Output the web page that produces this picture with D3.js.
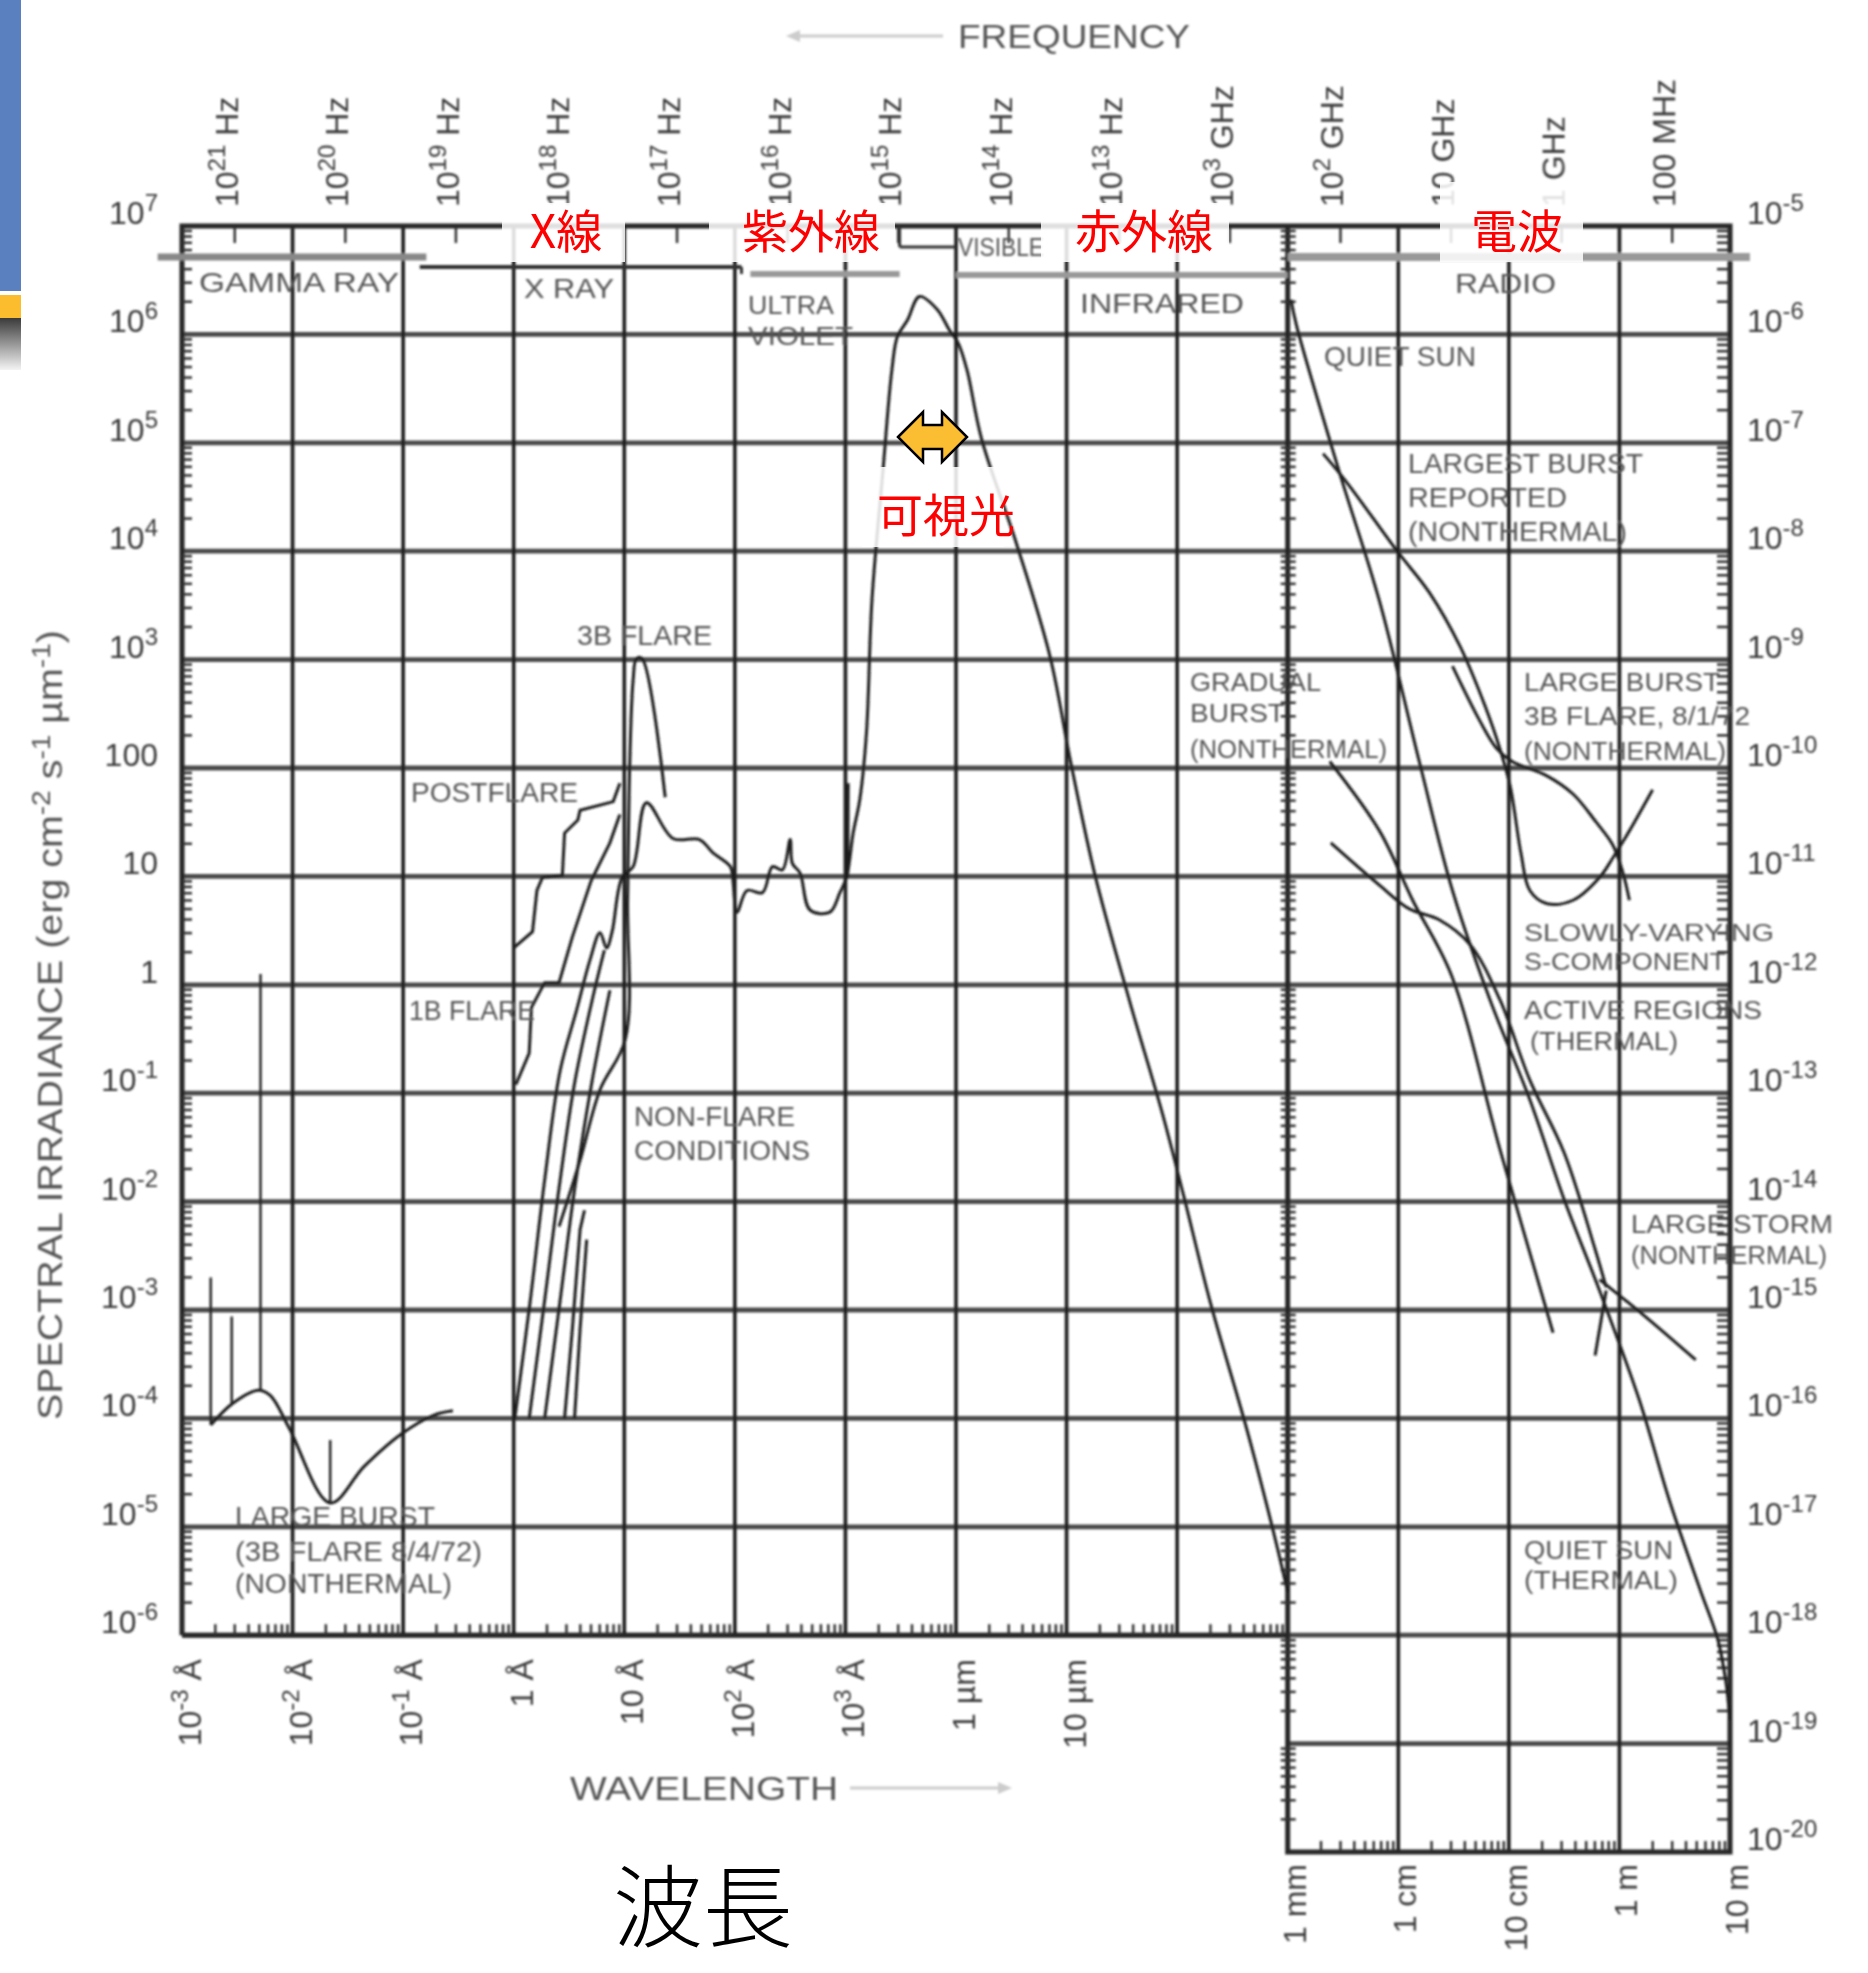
<!DOCTYPE html>
<html>
<head>
<meta charset="utf-8">
<title>太陽スペクトル放射照度</title>
<script src="https://d3js.org/d3.v7.min.js"></script>
<style>
  body { margin: 0; background: #fff; }
  svg text { font-family: "Liberation Sans", Arial, sans-serif; }
  .jp { font-family: "Noto Sans CJK JP", sans-serif; }
</style>
</head>
<body>
<div id="chart"></div>
<script>
const width = 1868, height = 1973;

// curves: [log10 wavelength in Å, log10 irradiance]
// left panel in erg cm-2 s-1 µm-1, radio panel in right-axis units
const quietSpectrum = [[0.01,-4.0],[0.15,-2.91],[0.28,-1.80],[0.42,-0.79],[0.57,-0.23],[0.69,0.23],[0.78,0.48],[0.84,0.34],[0.89,0.49],[0.98,0.99],[1.08,1.09],[1.20,1.68],[1.44,1.35],[1.68,1.34],[1.80,1.22],[1.96,1.09],[1.98,0.99],[2.02,0.67],[2.11,0.87],[2.25,0.85],[2.34,1.09],[2.43,1.06],[2.50,1.34],[2.52,1.12],[2.59,1.03],[2.68,0.69],[2.86,0.67],[2.95,0.85],[3.01,0.99],[3.07,1.40],[3.13,1.71],[3.19,2.32],[3.24,3.55],[3.34,4.75],[3.42,5.67],[3.47,5.98],[3.56,6.13],[3.67,6.35],[3.83,6.23],[3.94,6.04],[4.02,5.92],[4.10,5.67],[4.23,5.04],[4.55,4.06],[4.85,3.03],[5.04,2.04],[5.26,1.00],[5.57,-0.15],[5.87,-1.2],[6.06,-1.95],[6.30,-2.93],[6.63,-4.1],[6.86,-5.0],[7.0,-5.6]];
const lymanAlpha = [[3.02,0.99],[3.025,1.86]];
const postflare = [[0.00,0.34],[0.17,0.49],[0.21,0.87],[0.26,0.99],[0.44,1.01],[0.46,1.40],[0.58,1.52],[0.60,1.61],[0.90,1.69],[0.96,1.86]];
const flare1B = [[0.02,-0.92],[0.14,-0.63],[0.16,-0.21],[0.28,0.02],[0.41,0.02],[0.53,0.44],[0.70,0.96],[0.87,1.31],[0.96,1.57]];
const flare3B = [[0.41,-2.23],[0.60,-1.62],[0.78,-0.97],[1.01,-0.50],[1.03,0.78],[1.05,2.07],[1.08,2.81],[1.11,3.01],[1.16,3.01],[1.37,1.73]];
const nonflareB = [[0.14,-4.0],[0.28,-2.91],[0.42,-1.80],[0.55,-0.91],[0.71,-0.14],[0.82,0.32]];
const nonflareC = [[0.28,-4.0],[0.42,-2.91],[0.55,-1.89],[0.71,-0.88],[0.87,-0.05]];
const nonflareD = [[0.46,-4.0],[0.53,-3.18],[0.60,-2.26],[0.64,-2.08]];
const nonflareE = [[0.55,-4.0],[0.60,-3.18],[0.66,-2.35]];
const gammaBurst = [[-2.74,-4.06],[-2.54,-3.86],[-2.31,-3.74],[-2.20,-3.79],[-2.03,-4.09],[-1.66,-4.78],[-1.35,-4.44],[-1.01,-4.14],[-0.72,-3.97],[-0.55,-3.93]];
// gamma lines: [log10 wavelength, log10 top, log10 bottom]
const gammaLines = [[-2.74,-2.70,-4.06],[-2.55,-3.06,-3.86],[-2.29,0.10,-3.74],[-1.66,-4.20,-4.78]];

const radioQuiet = [[7.03,-5.68],[7.08,-5.92],[7.47,-7.28],[7.83,-8.46],[8.19,-9.94],[8.49,-11.13],[8.83,-12.14],[9.19,-13.06],[9.50,-13.98],[9.82,-14.82],[10.18,-15.83],[10.45,-16.75],[10.73,-17.58],[10.89,-18.04],[10.96,-18.41],[11.0,-18.78]];
const radioLargest = [[7.32,-7.10],[7.53,-7.36],[7.99,-8.00],[8.28,-8.38],[8.56,-8.88],[8.74,-9.31],[8.89,-9.73],[9.01,-10.16],[9.11,-10.79],[9.19,-11.13],[9.34,-11.25],[9.58,-11.22],[9.82,-11.01],[9.94,-10.83],[10.09,-10.58],[10.30,-10.20]];
const radioBurst3B = [[8.49,-9.06],[8.74,-9.57],[8.89,-9.82],[9.03,-9.94],[9.34,-10.07],[9.58,-10.24],[9.79,-10.50],[9.94,-10.71],[10.03,-10.96],[10.09,-11.22]];
const radioGradual = [[7.38,-9.94],[7.83,-10.58],[8.13,-11.22],[8.48,-11.91],[8.92,-13.52],[9.40,-15.21]];
const radioSComponent = [[7.39,-10.69],[7.84,-11.09],[8.10,-11.30],[8.37,-11.40],[8.65,-11.63],[8.92,-12.14],[9.19,-12.88],[9.50,-13.55],[9.78,-14.44],[9.88,-14.79]];
const radioStorm = [[9.82,-14.72],[10.21,-15.04],[10.69,-15.46]];
const radioStormTick = [[9.78,-15.42],[9.88,-14.82]];

// bands (log10 wavelength in Å)
const bandNames = ["GAMMA RAY", "X RAY", "ULTRA VIOLET", "VISIBLE", "INFRARED", "RADIO"];
const bandFrom = [-3.22, -0.85, 2.14, 3.49, 4.0, 7.0];
const bandTo = [-0.79, 2.06, 3.49, 4.0, 7.0, 11.18];

// axes
const leftExps = d3.range(7, -7, -1);
const rightExps = d3.range(-5, -21, -1);
const wavelengthTicks = [1e-3, 1e-2, 1e-1, 1, 10, 1e2, 1e3, 1e4, 1e5];
const wavelengthLabels = [["10","-3"," Å"],["10","-2"," Å"],["10","-1"," Å"],["1",""," Å"],["10",""," Å"],["10","2"," Å"],["10","3"," Å"],["1",""," µm"],["10",""," µm"],["10","2"," µm"]];
const radioTicks = [1e7, 1e8, 1e9, 1e10, 1e11];
const radioLabels = ["1 mm", "1 cm", "10 cm", "1 m", "10 m"];
const freqTicks = [1e21, 1e20, 1e19, 1e18, 1e17, 1e16, 1e15, 1e14, 1e13, 1e12, 1e11, 1e10, 1e9, 1e8];
const freqLabels = [["10","21"," Hz"],["10","20"," Hz"],["10","19"," Hz"],["10","18"," Hz"],["10","17"," Hz"],["10","16"," Hz"],["10","15"," Hz"],["10","14"," Hz"],["10","13"," Hz"],["10","3"," GHz"],["10","2"," GHz"],["10",""," GHz"],["1",""," GHz"],["100",""," MHz"]];

const svg = d3.select("#chart").append("svg")
  .attr("width", width).attr("height", height);

const defs = svg.append("defs");
defs.append("filter").attr("id", "soft")
  .append("feGaussianBlur").attr("stdDeviation", 0.9);
const grad = defs.append("linearGradient").attr("id", "grayfade")
  .attr("x1", 0).attr("y1", 0).attr("x2", 0).attr("y2", 1);
grad.append("stop").attr("offset", "0%").attr("stop-color", "#3a3a3a");
grad.append("stop").attr("offset", "100%").attr("stop-color", "#f4f4f4");

// slide decoration on the left edge
svg.append("rect").attr("x", 0).attr("y", 0).attr("width", 21).attr("height", 291).attr("fill", "#5a80bf");
svg.append("rect").attr("x", 0).attr("y", 295).attr("width", 21).attr("height", 23).attr("fill", "#fbbd2e");
svg.append("rect").attr("x", 0).attr("y", 318).attr("width", 21).attr("height", 52).attr("fill", "url(#grayfade)");

const x = d3.scaleLog().domain([1e-3, 1e11]).range([182, 1730]);
const yL = d3.scaleLog().domain([1e7, 1e-8]).range([226, 1852]);
const yR = d3.scaleLog().domain([1e-5, 1e-20]).range([226, 1852]);
const xLeft = x(1e-3), xDiv = x(1e7), xRight = x(1e11);
const yTop = yL(1e7), yBotL = yL(1e-6), yBotR = yL(1e-8);

const chart = svg.append("g").attr("filter", "url(#soft)");

// horizontal grid
const hLines = [];
d3.range(6, -7, -1).forEach(e => hLines.push([xLeft, xRight, yL(10 ** e)]));
hLines.push([xDiv, xRight, yL(1e-7)]);
chart.append("g").selectAll("line").data(hLines).join("line")
  .attr("x1", d => d[0]).attr("x2", d => d[1]).attr("y1", d => d[2]).attr("y2", d => d[2])
  .attr("stroke", "#4a4a4a").attr("stroke-width", 4.8);

// vertical grid
const vLines = [];
d3.range(-2, 7).forEach(e => vLines.push([x(10 ** e), yBotL]));
d3.range(8, 11).forEach(e => vLines.push([x(10 ** e), yBotR]));
chart.append("g").selectAll("line").data(vLines).join("line")
  .attr("x1", d => d[0]).attr("x2", d => d[0]).attr("y1", yTop).attr("y2", d => d[1])
  .attr("stroke", "#1e1e1e").attr("stroke-width", 3.6);

// frame
const frame = chart.append("g").attr("stroke", "#262626").attr("stroke-width", 5).attr("fill", "none");
frame.append("path").attr("d", `M${xLeft},${yBotL}V${yTop}H${xRight}V${yBotR}H${xDiv}V${yTop}`);
frame.append("line").attr("x1", xLeft).attr("x2", xDiv).attr("y1", yBotL).attr("y2", yBotL);

// minor ticks
function minorVals(lo, hi) {
  const out = [];
  for (let e = lo; e < hi; e++) for (let k = 2; k <= 9; k++) out.push(k * 10 ** e);
  return out;
}
const tk = chart.append("g").attr("stroke", "#333").attr("stroke-width", 2.5);
minorVals(-6, 7).forEach(v => tk.append("line").attr("x1", xLeft).attr("x2", xLeft + 10).attr("y1", yL(v)).attr("y2", yL(v)));
minorVals(-8, 7).forEach(v => {
  tk.append("line").attr("x1", xDiv - 7).attr("x2", xDiv + 8).attr("y1", yL(v)).attr("y2", yL(v));
  tk.append("line").attr("x1", xRight - 13).attr("x2", xRight).attr("y1", yL(v)).attr("y2", yL(v));
});
minorVals(-3, 7).forEach(v => tk.append("line").attr("x1", x(v)).attr("x2", x(v)).attr("y1", yBotL).attr("y2", yBotL - 11));
minorVals(7, 11).forEach(v => tk.append("line").attr("x1", x(v)).attr("x2", x(v)).attr("y1", yBotR).attr("y2", yBotR - 11));
freqTicks.forEach(f => tk.append("line").attr("x1", x(3e18 / f)).attr("x2", x(3e18 / f)).attr("y1", yTop).attr("y2", yTop + 17));

// band bars
const bandY = [257, 267, 274, 247, 275, 257];
const bandW = [7, 4, 6, 3, 6, 8];
const bandC = ["#888", "#333", "#999", "#333", "#999", "#999"];
bandNames.forEach((n, i) => {
  chart.append("line").attr("x1", x(10 ** bandFrom[i])).attr("x2", x(10 ** bandTo[i]))
    .attr("y1", bandY[i]).attr("y2", bandY[i]).attr("stroke", bandC[i]).attr("stroke-width", bandW[i]);
});
chart.append("line").attr("x1", x(10 ** bandFrom[3])).attr("x2", x(10 ** bandFrom[3]))
  .attr("y1", yTop).attr("y2", bandY[3]).attr("stroke", "#333").attr("stroke-width", 3);
chart.append("line").attr("x1", x(10 ** bandTo[1])).attr("x2", x(10 ** bandTo[1]))
  .attr("y1", bandY[1]).attr("y2", bandY[2]).attr("stroke", "#333").attr("stroke-width", 3);

// curves
const smooth = d3.curveCatmullRom.alpha(0.5);
const lineL = d3.line().x(d => x(10 ** d[0])).y(d => yL(10 ** d[1]));
const lineR = d3.line().x(d => x(10 ** d[0])).y(d => yR(10 ** d[1]));
const curves = chart.append("g").attr("fill", "none").attr("stroke", "#1c1c1c").attr("stroke-width", 3);
[quietSpectrum, flare3B, nonflareB, nonflareC, gammaBurst].forEach(s =>
  curves.append("path").attr("d", lineL.curve(smooth)(s)));
[postflare, flare1B, nonflareD, nonflareE, lymanAlpha].forEach(s =>
  curves.append("path").attr("d", lineL.curve(d3.curveLinear)(s)));
[radioQuiet, radioLargest, radioBurst3B, radioGradual, radioSComponent, radioStorm].forEach(s =>
  curves.append("path").attr("d", lineR.curve(smooth)(s)));
curves.append("path").attr("d", lineR.curve(d3.curveLinear)(radioStormTick));
curves.selectAll(null).data(gammaLines).join("line")
  .attr("x1", d => x(10 ** d[0])).attr("x2", d => x(10 ** d[0]))
  .attr("y1", d => yL(10 ** d[1])).attr("y2", d => yL(10 ** d[2]))
  .attr("stroke-width", 2.4);

// annotation text of the figure: [text, x, baseline, width, size]
const notes = [
  ["GAMMA RAY", 199, 292, 200, 28], ["X RAY", 524, 298, 90, 28], ["ULTRA", 748, 314, 86, 25], ["VIOLET", 748, 345, 105, 25],
  ["VISIBLE", 958, 256, 86, 26], ["INFRARED", 1080, 313, 164, 28], ["RADIO", 1455, 293, 101, 28],
  ["QUIET SUN", 1324, 366, 152, 28], ["LARGEST BURST", 1408, 473, 235, 27], ["REPORTED", 1408, 507, 159, 27], ["(NONTHERMAL)", 1408, 541, 219, 27],
  ["3B FLARE", 577, 645, 135, 27], ["POSTFLARE", 411, 802, 167, 27], ["1B FLARE", 409, 1020, 126, 27],
  ["NON-FLARE", 634, 1126, 161, 27], ["CONDITIONS", 634, 1160, 176, 27],
  ["LARGE BURST", 235, 1526, 200, 27], ["(3B FLARE 8/4/72)", 235, 1561, 247, 27], ["(NONTHERMAL)", 235, 1593, 217, 27],
  ["GRADUAL", 1190, 691, 131, 26], ["BURST", 1190, 722, 95, 26], ["(NONTHERMAL)", 1190, 758, 197, 26],
  ["LARGE BURST", 1524, 691, 196, 26], ["3B FLARE, 8/1/72", 1524, 725, 226, 26], ["(NONTHERMAL)", 1524, 760, 202, 26],
  ["SLOWLY-VARYING", 1524, 941, 250, 24], ["S-COMPONENT", 1524, 970, 202, 24],
  ["ACTIVE REGIONS", 1524, 1019, 238, 25], ["(THERMAL)", 1530, 1050, 148, 25],
  ["LARGE STORM", 1631, 1233, 202, 25], ["(NONTHERMAL)", 1631, 1264, 196, 25],
  ["QUIET SUN", 1524, 1559, 149, 26], ["(THERMAL)", 1524, 1589, 154, 26]
];
chart.append("g").attr("fill", "#555").selectAll("text").data(notes).join("text")
  .attr("x", d => d[1]).attr("y", d => d[2]).attr("font-size", d => d[4])
  .attr("textLength", d => d[3]).attr("lengthAdjust", "spacingAndGlyphs")
  .text(d => d[0]);

// tick labels
const labels = chart.append("g").attr("fill", "#3a3a3a").attr("font-size", 32);
function powText(t, parts, supSize) {
  t.append("tspan").text(parts[0]);
  if (parts[1] !== "") t.append("tspan").attr("dy", -13).attr("font-size", supSize).text(parts[1]);
  if (parts[2] !== undefined && parts[2] !== "")
    t.append("tspan").attr("dy", parts[1] !== "" ? 13 : 0).text(parts[2]);
}
leftExps.forEach(e => {
  const t = labels.append("text").attr("x", 158).attr("y", yL(10 ** e) - 2).attr("text-anchor", "end");
  if (e === 2) t.text("100");
  else if (e === 1) t.text("10");
  else if (e === 0) t.text("1");
  else powText(t, ["10", String(e)], 24);
});
rightExps.forEach(e => {
  const t = labels.append("text").attr("x", 1747).attr("y", yR(10 ** e) - 2);
  powText(t, ["10", String(e)], 24);
});
wavelengthTicks.forEach((v, i) => {
  const t = labels.append("text").attr("text-anchor", "end")
    .attr("transform", `translate(${x(v) + 19},${yBotL + 24}) rotate(-90)`);
  powText(t, wavelengthLabels[i], 24);
});
radioTicks.forEach((v, i) => {
  labels.append("text").attr("text-anchor", "end")
    .attr("transform", `translate(${x(v) + 18},${yBotR + 12}) rotate(-90)`)
    .text(radioLabels[i]);
});
freqTicks.forEach((f, i) => {
  const t = labels.append("text")
    .attr("transform", `translate(${x(3e18 / f) + 3},207) rotate(-90)`);
  powText(t, freqLabels[i], 24);
});

// axis titles
const yt = chart.append("text").attr("fill", "#555").attr("font-size", 35).attr("text-anchor", "middle")
  .attr("transform", "translate(62,1025) rotate(-90)")
  .attr("textLength", 790).attr("lengthAdjust", "spacingAndGlyphs");
yt.append("tspan").text("SPECTRAL IRRADIANCE (erg cm");
yt.append("tspan").attr("dy", -12).attr("font-size", 25).text("-2");
yt.append("tspan").attr("dy", 12).text(" s");
yt.append("tspan").attr("dy", -12).attr("font-size", 25).text("-1");
yt.append("tspan").attr("dy", 12).text(" µm");
yt.append("tspan").attr("dy", -12).attr("font-size", 25).text("-1");
yt.append("tspan").attr("dy", 12).text(")");

chart.append("text").attr("x", 958).attr("y", 48).attr("fill", "#555").attr("font-size", 34)
  .attr("textLength", 232).attr("lengthAdjust", "spacingAndGlyphs").text("FREQUENCY");
chart.append("line").attr("x1", 796).attr("x2", 943).attr("y1", 36).attr("y2", 36).attr("stroke", "#ccc").attr("stroke-width", 3);
chart.append("path").attr("d", "M786,36L800,30L800,42Z").attr("fill", "#ccc");

chart.append("text").attr("x", 570).attr("y", 1800).attr("fill", "#555").attr("font-size", 34)
  .attr("textLength", 268).attr("lengthAdjust", "spacingAndGlyphs").text("WAVELENGTH");
chart.append("line").attr("x1", 850).attr("x2", 1000).attr("y1", 1788).attr("y2", 1788).attr("stroke", "#ccc").attr("stroke-width", 3);
chart.append("path").attr("d", "M1012,1788L998,1782L998,1794Z").attr("fill", "#ccc");

// Japanese overlay labels
const jpBoxes = [[502, 203, 123, 59], [709, 203, 186, 59], [1041, 203, 188, 59], [1440, 182, 143, 80], [862, 467, 142, 80]];
svg.append("g").selectAll("rect").data(jpBoxes).join("rect")
  .attr("x", d => d[0]).attr("y", d => d[1]).attr("width", d => d[2]).attr("height", d => d[3])
  .attr("fill", "#fff").attr("opacity", 0.85);
const jpLabels = [["X線", 566, 228], ["紫外線", 811, 228], ["赤外線", 1144, 228], ["電波", 1517, 228], ["可視光", 946, 512]];
svg.append("g").selectAll("text").data(jpLabels).join("text")
  .attr("class", "jp").attr("x", d => d[1]).attr("y", d => d[2])
  .attr("text-anchor", "middle").attr("dominant-baseline", "central")
  .attr("font-size", 46).attr("fill", "#ff0000").text(d => d[0]);

svg.append("polygon")
  .attr("points", "898,437 923,412 923,425 942,425 942,412 967,437 942,462 942,449 923,449 923,462")
  .attr("fill", "#fbbd32").attr("stroke", "#000").attr("stroke-width", 2.5).attr("stroke-linejoin", "miter");

svg.append("text").attr("class", "jp").attr("x", 703).attr("y", 1940)
  .attr("text-anchor", "middle").attr("font-size", 90).attr("font-weight", 300)
  .attr("fill", "#000").text("波長");
</script>
</body>
</html>
